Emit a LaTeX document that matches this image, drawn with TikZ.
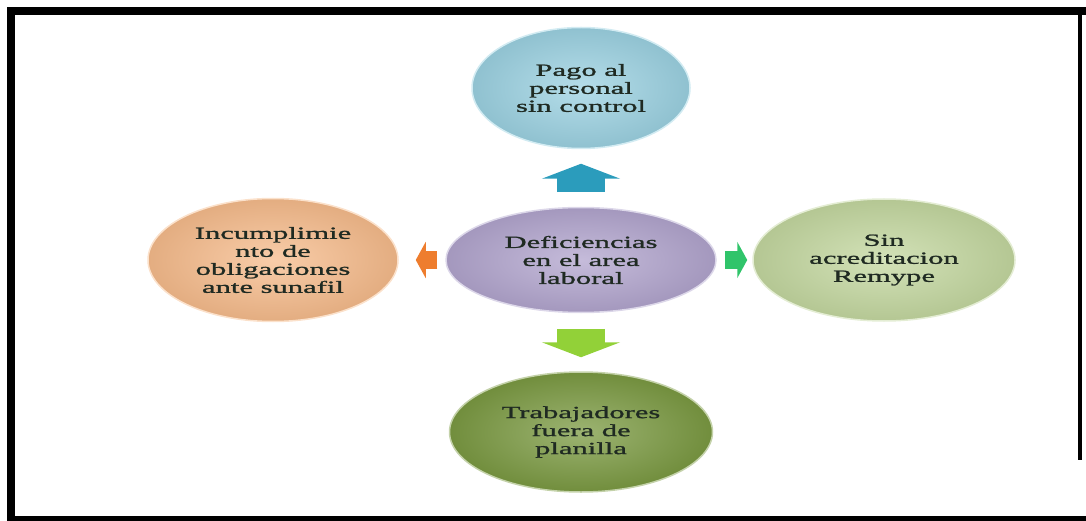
\documentclass[tikz,border=0pt]{standalone}
\usepackage{fontspec}
\setmainfont{Liberation Serif}
\newfontfamily\bubblefont[FakeStretch=1.8, FakeBold=1.3]{Liberation Serif}
\usetikzlibrary{positioning, arrows.meta, shapes.geometric}

\definecolor{pagoblue}{HTML}{9CD2E2}
\definecolor{defpurple}{HTML}{B2A5CE}
\definecolor{incorange}{HTML}{F7BC8C}
\definecolor{remgreen}{HTML}{C4D8A0}
\definecolor{trabolive}{HTML}{7B9A42}
\definecolor{uparrow}{HTML}{2B9CBC}
\definecolor{leftarrow}{HTML}{EE7D2E}
\definecolor{rightarrow}{HTML}{30C46A}
\definecolor{downarrow}{HTML}{92D138}
\definecolor{textdark}{HTML}{1F2A22}

\begin{document}
\begin{tikzpicture}[x=1pt, y=-1pt,
  bubble/.style={ellipse, inner sep=0pt, inner color=#1!75!white, outer color=#1!92!black,
    draw=white!55!#1, line width=1.5pt,
    text=textdark, align=center, font=\bubblefont\fontsize{17}{18}\selectfont},
  vblock/.style={draw=#1, line width=48pt, -{Triangle[width=78pt, length=15pt]}},
  hblock/.style={draw=#1, line width=18pt, -{Triangle[width=36pt, length=10pt]}}]
\useasboundingbox (0,0) rectangle (1086,521);

% frame
\fill (7,7) rectangle (1086,15);
\fill (7,7) rectangle (15,521);
\fill (7,516) rectangle (1086,521);
\fill (1078,7) rectangle (1082,460);

\node[bubble=defpurple, minimum width=270pt, minimum height=105pt] (deficiencias) at (581,260) {Deficiencias\\en el area\\laboral};
\node[bubble=pagoblue, minimum width=218pt, minimum height=121pt] (pago) at (581,88) {Pago al\\personal\\sin control};
\node[bubble=incorange, minimum width=250pt, minimum height=123pt] (incumplimiento) at (273,260) {Incumplimie\\nto de\\obligaciones\\ante sunafil};
\node[bubble=remgreen, minimum width=262pt, minimum height=122pt] (remype) at (884,260) {Sin\\acreditacion\\Remype};
\node[bubble=trabolive, minimum width=263pt, minimum height=120pt] (planilla) at (581,432) {Trabajadores\\fuera de\\planilla};

\draw[vblock=uparrow, shorten <=14.5pt, shorten >=14.5pt] (deficiencias) -- (pago);
\draw[vblock=downarrow, shorten <=15.5pt, shorten >=14pt] (deficiencias) -- (planilla);
\draw[hblock=leftarrow, shorten <=8pt, shorten >=17pt] (deficiencias) -- (incumplimiento);
\draw[hblock=rightarrow, shorten <=8pt, shorten >=5pt] (deficiencias) -- (remype);
\end{tikzpicture}
\end{document}
